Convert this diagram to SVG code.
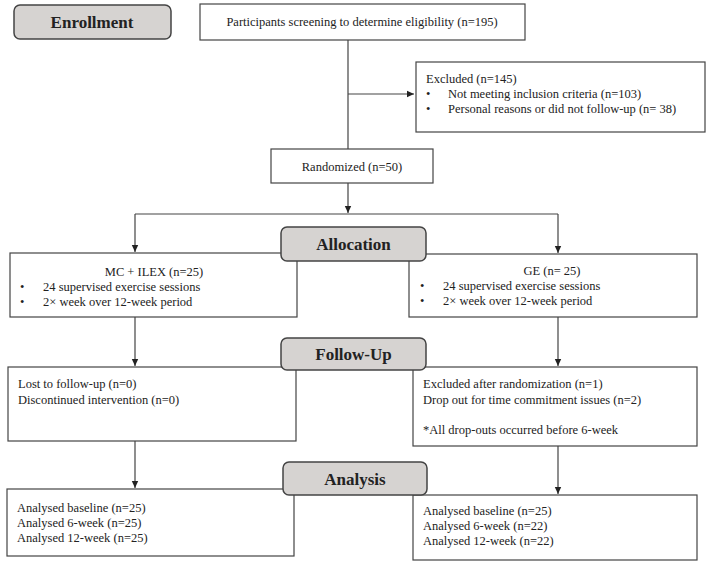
<svg xmlns="http://www.w3.org/2000/svg" width="707" height="566" viewBox="0 0 707 566">
<style>
.box{fill:#fff;stroke:#444;stroke-width:1.2}
.hd{fill:#d6d3d1;stroke:#444;stroke-width:1.5}
.t{font-family:"Liberation Serif",serif;font-size:12.5px;fill:#222}
.h{font-family:"Liberation Serif",serif;font-size:17px;font-weight:bold;fill:#222;text-anchor:middle}
.c{text-anchor:middle}
.ln{stroke:#444;stroke-width:1.2;fill:none}
</style>
<defs>
<marker id="ar" markerWidth="8" markerHeight="8" refX="7" refY="4" orient="auto" markerUnits="userSpaceOnUse">
<path d="M0,0.8 L7,4 L0,7.2 z" fill="#222"/>
</marker>
</defs>
<g id="connectors">
<path class="ln" d="M348,40 V149"/>
<path class="ln" d="M348,94 H414" marker-end="url(#ar)"/>
<path class="ln" d="M348,183 V213" marker-end="url(#ar)"/>
<path class="ln" d="M135,214 H558"/>
<path class="ln" d="M135,214 V252" marker-end="url(#ar)"/>
<path class="ln" d="M558,214 V253" marker-end="url(#ar)"/>
<path class="ln" d="M135,317 V366" marker-end="url(#ar)"/>
<path class="ln" d="M558,317 V366" marker-end="url(#ar)"/>
<path class="ln" d="M135,441 V488" marker-end="url(#ar)"/>
<path class="ln" d="M558,446 V494" marker-end="url(#ar)"/>
</g>
<g id="enrollment">
<rect class="hd" x="14" y="5" width="157" height="34" rx="6"/>
<text class="h" x="92" y="28">Enrollment</text>
</g>
<g id="screening">
<rect class="box" x="200" y="4" width="325" height="36"/>
<text class="t c" x="362" y="26">Participants screening to determine eligibility (n=195)</text>
</g>
<g id="excluded">
<rect class="box" x="416" y="62" width="289" height="70"/>
<text class="t" x="426" y="83">Excluded (n=145)</text>
<text class="t" x="426" y="98">•</text>
<text class="t" x="448" y="98">Not meeting inclusion criteria (n=103)</text>
<text class="t" x="426" y="113">•</text>
<text class="t" x="448" y="113">Personal reasons or did not follow-up (n= 38)</text>
</g>
<g id="randomized">
<rect class="box" x="271" y="149" width="162" height="34"/>
<text class="t c" x="352" y="171">Randomized (n=50)</text>
</g>
<g id="mc">
<rect class="box" x="10" y="253" width="287" height="64"/>
<text class="t c" x="154" y="276">MC + ILEX (n=25)</text>
<text class="t" x="20" y="291">•</text>
<text class="t" x="43" y="291">24 supervised exercise sessions</text>
<text class="t" x="20" y="306">•</text>
<text class="t" x="43" y="306">2× week over 12-week period</text>
</g>
<g id="ge">
<rect class="box" x="409" y="254" width="288" height="63"/>
<text class="t c" x="552" y="275">GE (n= 25)</text>
<text class="t" x="420" y="290">•</text>
<text class="t" x="443" y="290">24 supervised exercise sessions</text>
<text class="t" x="420" y="305">•</text>
<text class="t" x="443" y="305">2× week over 12-week period</text>
</g>
<g id="allocation">
<rect class="hd" x="281" y="227" width="145" height="34" rx="6"/>
<text class="h" x="353.5" y="250">Allocation</text>
</g>
<g id="lost">
<rect class="box" x="8" y="367" width="288" height="74"/>
<text class="t" x="18" y="388">Lost to follow-up (n=0)</text>
<text class="t" x="18" y="404">Discontinued intervention (n=0)</text>
</g>
<g id="excluded-after">
<rect class="box" x="413" y="367" width="284" height="79"/>
<text class="t" x="423" y="388">Excluded after randomization (n=1)</text>
<text class="t" x="423" y="404">Drop out for time commitment issues (n=2)</text>
<text class="t" x="423" y="434">*All drop-outs occurred before 6-week</text>
</g>
<g id="followup">
<rect class="hd" x="281" y="338" width="145" height="32" rx="6"/>
<text class="h" x="353.5" y="360">Follow-Up</text>
</g>
<g id="analysed-left">
<rect class="box" x="7" y="489" width="287" height="67"/>
<text class="t" x="17" y="512">Analysed baseline (n=25)</text>
<text class="t" x="17" y="527">Analysed 6-week (n=25)</text>
<text class="t" x="17" y="542">Analysed 12-week (n=25)</text>
</g>
<g id="analysed-right">
<rect class="box" x="413" y="495" width="284" height="65"/>
<text class="t" x="423" y="515">Analysed baseline (n=25)</text>
<text class="t" x="423" y="530">Analysed 6-week (n=22)</text>
<text class="t" x="423" y="545">Analysed 12-week (n=22)</text>
</g>
<g id="analysis">
<rect class="hd" x="283" y="462" width="144" height="33" rx="6"/>
<text class="h" x="355" y="485">Analysis</text>
</g>
</svg>
